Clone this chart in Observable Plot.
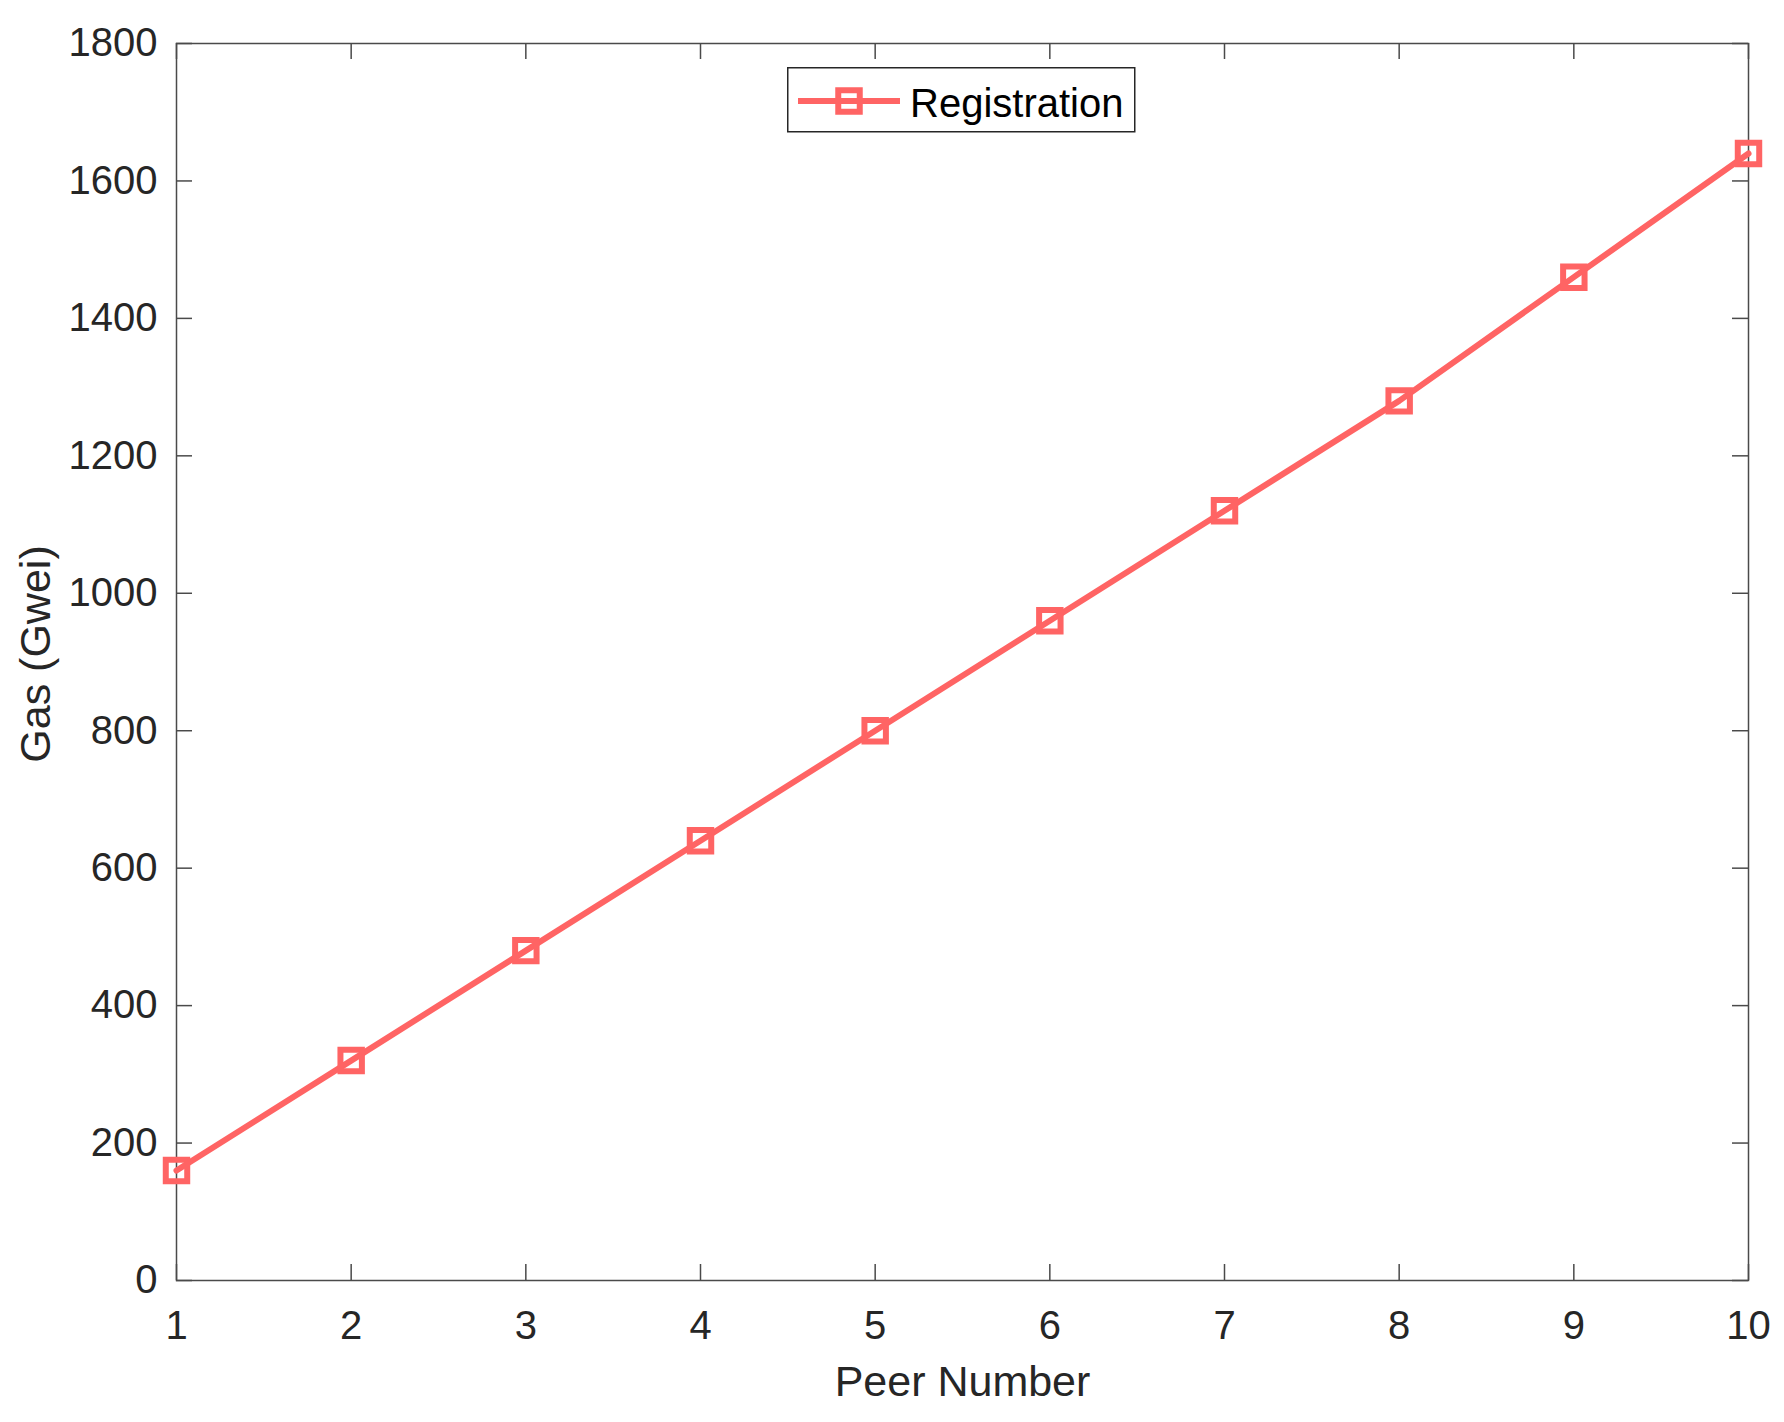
<!DOCTYPE html>
<html><head><meta charset="utf-8">
<script src="https://cdn.jsdelivr.net/npm/d3@7"></script>
<script src="https://cdn.jsdelivr.net/npm/@observablehq/plot@0.6"></script>
<style>
body{margin:0;background:#fff;}
#wrap{position:relative;width:1784px;height:1422px;}
#legend{position:absolute;left:787px;top:67px;}
</style></head>
<body><div id="wrap"></div>
<script>
const peers = [1, 2, 3, 4, 5, 6, 7, 8, 9, 10];
const gas = [160, 320, 480, 640, 800, 960, 1120, 1280, 1460, 1640];
const xTicks = [1, 2, 3, 4, 5, 6, 7, 8, 9, 10];
const yTicks = [0, 200, 400, 600, 800, 1000, 1200, 1400, 1600, 1800];
const seriesName = "Registration";
const xLabel = "Peer Number";
const yLabel = "Gas (Gwei)";

const color = "#ff6464";
const axisColor = "#4a4a4a";
const textColor = "#262626";
const font = "'Liberation Sans', Arial, Helvetica, sans-serif";

const W = 1784, H = 1422, ML = 176, MR = 36, MT = 43, MB = 142;
const tickLen = 16;
const innerW = W - ML - MR, innerH = H - MT - MB;

const data = peers.map((p, i) => ({peer: p, gas: gas[i]}));

const chart = Plot.plot({
  width: W,
  height: H,
  marginLeft: ML,
  marginRight: MR,
  marginTop: MT,
  marginBottom: MB,
  style: {fontFamily: font, background: "#fff", overflow: "visible"},
  x: {domain: [1, 10], ticks: xTicks, tickFormat: d => String(d)},
  y: {domain: [0, 1800], ticks: yTicks, tickFormat: d => String(d)},
  marks: [
    Plot.frame({stroke: axisColor, strokeWidth: 1.5}),
    // inward ticks on all four sides
    Plot.tickX(xTicks, {x: d => d, insetTop: innerH - tickLen, stroke: axisColor, strokeWidth: 1.5}),
    Plot.tickX(xTicks, {x: d => d, insetBottom: innerH - tickLen, stroke: axisColor, strokeWidth: 1.5}),
    Plot.tickY(yTicks, {y: d => d, insetRight: innerW - tickLen, stroke: axisColor, strokeWidth: 1.5}),
    Plot.tickY(yTicks, {y: d => d, insetLeft: innerW - tickLen, stroke: axisColor, strokeWidth: 1.5}),
    // tick labels
    Plot.axisX(xTicks, {anchor: "bottom", tickSize: 0, tickPadding: 30, fontSize: 40, fill: textColor, label: null, tickFormat: d => String(d)}),
    Plot.axisY(yTicks, {anchor: "left", tickSize: 0, tickPadding: 19, fontSize: 40, fill: textColor, label: null, tickFormat: d => String(d)}),
    // axis titles
    Plot.text([xLabel], {frameAnchor: "bottom", textAnchor: "middle", lineAnchor: "middle", dy: 102, fontSize: 43, fill: textColor, text: d => d}),
    Plot.text([yLabel], {frameAnchor: "left", textAnchor: "middle", lineAnchor: "middle", dx: -140, dy: -8, rotate: -90, fontSize: 43, fill: textColor, text: d => d}),
    // series
    Plot.line(data, {x: "peer", y: "gas", stroke: color, strokeWidth: 6}),
    Plot.dot(data, {x: "peer", y: "gas", symbol: "square", r: 12.1, stroke: color, strokeWidth: 6, fill: "none"})
  ]
});

const wrap = document.getElementById("wrap");
wrap.appendChild(chart);

// legend box inside the axes
const leg = d3.create("svg").attr("id", "legend").attr("width", 350).attr("height", 68);
leg.append("rect").attr("x", 0.75).attr("y", 0.75).attr("width", 347).attr("height", 64)
  .attr("fill", "#fff").attr("stroke", textColor).attr("stroke-width", 1.5);
leg.append("line").attr("x1", 11).attr("x2", 113).attr("y1", 34).attr("y2", 34)
  .attr("stroke", color).attr("stroke-width", 6);
leg.append("rect").attr("x", 62 - 10.75).attr("y", 34 - 10.75).attr("width", 21.5).attr("height", 21.5)
  .attr("fill", "none").attr("stroke", color).attr("stroke-width", 6);
leg.append("text").attr("x", 123).attr("y", 50).attr("font-family", font).attr("font-size", 40)
  .attr("fill", "#000").text(seriesName);
wrap.appendChild(leg.node());
</script>
</body></html>
